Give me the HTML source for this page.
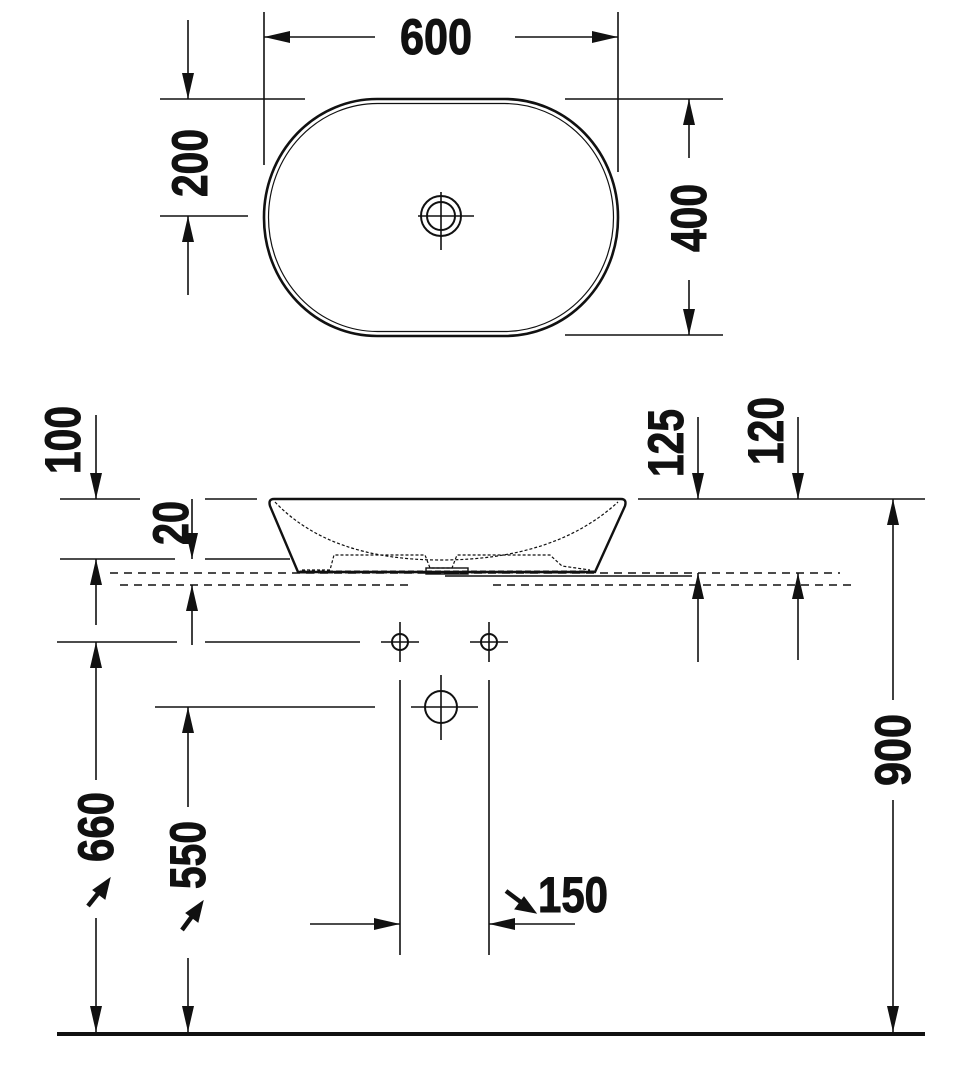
<!DOCTYPE html>
<html><head><meta charset="utf-8"><style>
html,body{margin:0;padding:0;background:#fff;}
svg{display:block}
text{font-family:"Liberation Sans Narrow","Liberation Sans",sans-serif;font-weight:bold;font-size:50px;fill:#111;stroke:#111;stroke-width:1;}
</style></head><body>
<svg width="978" height="1086" viewBox="0 0 978 1086" xmlns="http://www.w3.org/2000/svg">
<defs>
<marker id="a" markerWidth="26" markerHeight="12" refX="26" refY="6" orient="auto" markerUnits="userSpaceOnUse" viewBox="0 0 26 12"><path d="M0,0 L26,6 L0,12 z" fill="#111" stroke="none"/></marker>
</defs>
<g stroke="#111" stroke-width="1.6" fill="none">
<rect x="264" y="99" width="354" height="237" rx="113" ry="118" stroke-width="2.6"/>
<rect x="268.5" y="103.5" width="345" height="228" rx="109" ry="114" stroke-width="1.2"/>
<circle cx="441" cy="216" r="20" stroke-width="2"/>
<circle cx="441" cy="216" r="14" stroke-width="2"/>
<line x1="418" y1="216" x2="474" y2="216"/><line x1="441" y1="192" x2="441" y2="250"/>
<line x1="264" y1="12" x2="264" y2="165"/><line x1="618" y1="12" x2="618" y2="172"/>
<line x1="375" y1="37" x2="264" y2="37" marker-end="url(#a)"/>
<line x1="515" y1="37" x2="618" y2="37" marker-end="url(#a)"/>
<line x1="160" y1="99" x2="305" y2="99"/><line x1="160" y1="216" x2="248" y2="216"/>
<line x1="188" y1="20" x2="188" y2="99" marker-end="url(#a)"/>
<line x1="188" y1="295" x2="188" y2="216" marker-end="url(#a)"/>
<line x1="565" y1="99" x2="723" y2="99"/><line x1="565" y1="335" x2="723" y2="335"/>
<line x1="689" y1="158" x2="689" y2="99" marker-end="url(#a)"/>
<line x1="689" y1="280" x2="689" y2="335" marker-end="url(#a)"/>

<line x1="60" y1="499" x2="140" y2="499"/><line x1="205" y1="499" x2="257" y2="499"/><line x1="638" y1="499" x2="925" y2="499"/>
<path d="M274,499 L621,499 Q627,499 625,506 L595,572 L298,572 L270,506 Q268,499 274,499 Z" stroke-width="2.4"/>
<path d="M275,502 Q330,560 441,560 Q555,560 618,502" stroke-dasharray="3,2" stroke-width="1.2"/>
<path d="M302,570 L330,570 L334,555 L425,555 L430,568 L452,568 L457,555 L550,555 L562,566 L590,570" stroke-dasharray="3,2" stroke-width="1.2"/>
<rect x="426" y="568" width="42" height="6" stroke-width="1.4"/>
<line x1="300" y1="572" x2="595" y2="572" stroke-width="3" stroke-dasharray="6,3"/>
<line x1="60" y1="559" x2="175" y2="559"/><line x1="205" y1="559" x2="290" y2="559"/>
<line x1="110" y1="573" x2="840" y2="573" stroke-dasharray="8,6"/>
<line x1="120" y1="585" x2="410" y2="585" stroke-dasharray="8,6"/>
<line x1="493" y1="585" x2="852" y2="585" stroke-dasharray="8,6"/>
<line x1="445" y1="576" x2="692" y2="576"/>
<line x1="57" y1="642" x2="177" y2="642"/><line x1="205" y1="642" x2="360" y2="642"/>
<line x1="96" y1="415" x2="96" y2="499" marker-end="url(#a)"/>
<line x1="192" y1="499" x2="192" y2="559" marker-end="url(#a)"/>
<line x1="192" y1="645" x2="192" y2="585" marker-end="url(#a)"/>
<line x1="96" y1="625" x2="96" y2="559" marker-end="url(#a)"/>
<line x1="96" y1="780" x2="96" y2="642" marker-end="url(#a)"/>
<line x1="96" y1="918" x2="96" y2="1032" marker-end="url(#a)"/>
<line x1="155" y1="707" x2="375" y2="707"/>
<line x1="188" y1="807" x2="188" y2="707" marker-end="url(#a)"/>
<line x1="188" y1="958" x2="188" y2="1032" marker-end="url(#a)"/>
<line x1="698" y1="417" x2="698" y2="499" marker-end="url(#a)"/>
<line x1="698" y1="662" x2="698" y2="573" marker-end="url(#a)"/>
<line x1="798" y1="417" x2="798" y2="499" marker-end="url(#a)"/>
<line x1="798" y1="660" x2="798" y2="573" marker-end="url(#a)"/>
<line x1="893" y1="700" x2="893" y2="499" marker-end="url(#a)"/>
<line x1="893" y1="800" x2="893" y2="1032" marker-end="url(#a)"/>
<circle cx="400" cy="642" r="8" stroke-width="2"/><line x1="381" y1="642" x2="419" y2="642"/><line x1="400" y1="622" x2="400" y2="662"/>
<circle cx="489" cy="642" r="8" stroke-width="2"/><line x1="470" y1="642" x2="508" y2="642"/><line x1="489" y1="622" x2="489" y2="662"/>
<circle cx="441" cy="707" r="16" stroke-width="2"/><line x1="411" y1="707" x2="478" y2="707"/><line x1="441" y1="675" x2="441" y2="740"/>
<line x1="400" y1="680" x2="400" y2="955"/><line x1="489" y1="680" x2="489" y2="955"/>
<line x1="310" y1="924" x2="400" y2="924" marker-end="url(#a)"/>
<line x1="575" y1="924" x2="489" y2="924" marker-end="url(#a)"/>
<line x1="57" y1="1034" x2="925" y2="1034" stroke-width="4"/>
</g>
<g stroke="#111" stroke-width="4.5" fill="#111">
<line x1="88" y1="906" x2="100" y2="891"/><path d="M110,878 L105,899 L93,890 Z" stroke-width="1"/>
<line x1="182" y1="930" x2="193" y2="915"/><path d="M203,901 L198,922 L186,913 Z" stroke-width="1"/>
<line x1="506" y1="891" x2="522" y2="903"/><path d="M536,913 L515,909 L524,897 Z" stroke-width="1"/>
</g>
<text x="436" y="54" text-anchor="middle" textLength="72" lengthAdjust="spacingAndGlyphs">600</text>
<text transform="translate(207,163) rotate(-90)" text-anchor="middle" textLength="68" lengthAdjust="spacingAndGlyphs">200</text>
<text transform="translate(706,218) rotate(-90)" text-anchor="middle" textLength="68" lengthAdjust="spacingAndGlyphs">400</text>
<text transform="translate(80,440) rotate(-90)" text-anchor="middle" textLength="68" lengthAdjust="spacingAndGlyphs">100</text>
<text transform="translate(188,523) rotate(-90)" text-anchor="middle" textLength="44" lengthAdjust="spacingAndGlyphs">20</text>
<text transform="translate(683,443) rotate(-90)" text-anchor="middle" textLength="68" lengthAdjust="spacingAndGlyphs">125</text>
<text transform="translate(783,431) rotate(-90)" text-anchor="middle" textLength="68" lengthAdjust="spacingAndGlyphs">120</text>
<text transform="translate(113,827) rotate(-90)" text-anchor="middle" textLength="70" lengthAdjust="spacingAndGlyphs">660</text>
<text transform="translate(205,855) rotate(-90)" text-anchor="middle" textLength="68" lengthAdjust="spacingAndGlyphs">550</text>
<text transform="translate(910,750) rotate(-90)" text-anchor="middle" textLength="72" lengthAdjust="spacingAndGlyphs">900</text>
<text x="538" y="912" textLength="70" lengthAdjust="spacingAndGlyphs">150</text>
</svg>
</body></html>
